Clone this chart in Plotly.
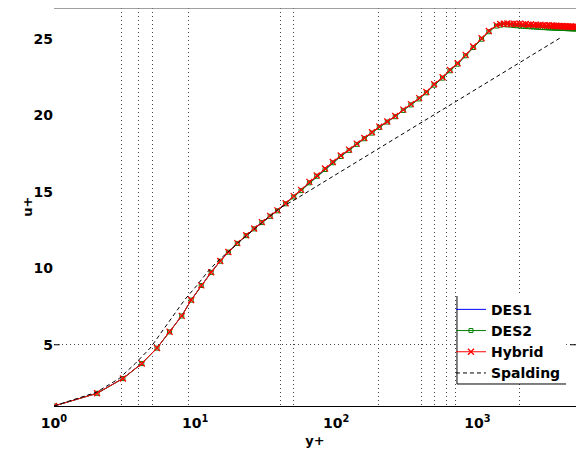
import plotly.graph_objects as go

# ---------------- data ----------------
yplus = [1.0, 2.02, 3.08, 4.19, 5.37, 6.59, 8.04, 9.38, 11.05, 13.0, 15.06, 17.2,
         19.9, 23.0, 26.2, 29.7, 34.0, 38.3, 43.8, 50.0, 56.3, 64.5, 72.8, 83.3,
         94.5, 107.6, 123.3, 139.7, 158.1, 179.2, 201.8, 230, 262, 298.5, 338, 387,
         435, 494, 567, 639, 724, 826, 934, 1071, 1206, 1367,
         1450, 1540, 1630, 1720, 1810, 1900, 2000, 2100, 2200, 2300, 2400, 2500,
         2600, 2700, 2800, 2900, 3000, 3100, 3200, 3300, 3400, 3500, 3600, 3700,
         3800, 3900, 4000, 4100, 4200, 4300, 4400, 4500, 4600, 4700, 4800, 4900, 5000]

hybrid = [1.0, 1.83, 2.80, 3.78, 4.79, 5.85, 6.89, 7.93, 8.88, 9.74, 10.47, 11.06,
          11.64, 12.15, 12.59, 13.01, 13.42, 13.78, 14.25, 14.71, 15.12, 15.64, 16.06, 16.51,
          16.94, 17.36, 17.75, 18.14, 18.51, 18.88, 19.25, 19.59, 19.94, 20.36, 20.72, 21.11,
          21.51, 22.02, 22.48, 22.96, 23.39, 23.94, 24.48, 25.02, 25.50, 25.88,
          25.95, 25.97, 25.99, 25.96, 25.98, 25.95, 25.97, 25.93, 25.95, 25.91, 25.93, 25.89,
          25.91, 25.88, 25.90, 25.86, 25.88, 25.85, 25.87, 25.83, 25.86, 25.82, 25.84, 25.81,
          25.83, 25.80, 25.82, 25.79, 25.81, 25.78, 25.80, 25.77, 25.79, 25.77, 25.78, 25.76, 25.77]

des2 = [1.0, 1.83, 2.79, 3.77, 4.78, 5.84, 6.88, 7.92, 8.87, 9.73, 10.46, 11.05,
        11.62, 12.13, 12.57, 12.98, 13.39, 13.75, 14.21, 14.66, 15.07, 15.58, 16.01, 16.45,
        16.89, 17.30, 17.70, 18.09, 18.46, 18.83, 19.20, 19.55, 19.90, 20.31, 20.67, 21.06,
        21.46, 21.96, 22.42, 22.90, 23.33, 23.88, 24.42, 24.96, 25.45, 25.82,
        25.88, 25.91, 25.90, 25.88, 25.86, 25.84, 25.82, 25.80, 25.79, 25.78, 25.77, 25.76,
        25.75, 25.74, 25.73, 25.72, 25.72, 25.71, 25.70, 25.70, 25.69, 25.69, 25.68, 25.68,
        25.67, 25.67, 25.66, 25.66, 25.66, 25.65, 25.65, 25.65, 25.64, 25.64, 25.64, 25.63, 25.63]

des1 = [1.0, 1.83, 2.80, 3.78, 4.79, 5.85, 6.89, 7.93, 8.88, 9.74, 10.47, 11.06,
        11.63, 12.14, 12.58, 13.00, 13.41, 13.77, 14.23, 14.69, 15.10, 15.61, 16.04, 16.48,
        16.92, 17.33, 17.73, 18.12, 18.49, 18.86, 19.23, 19.57, 19.92, 20.34, 20.70, 21.09,
        21.49, 21.99, 22.45, 22.93, 23.36, 23.92, 24.46, 25.00, 25.49, 25.87,
        25.92, 25.93, 25.93, 25.92, 25.91, 25.90, 25.88, 25.87, 25.86, 25.85, 25.84, 25.83,
        25.82, 25.81, 25.80, 25.79, 25.79, 25.78, 25.77, 25.77, 25.76, 25.76, 25.75, 25.75,
        25.74, 25.74, 25.73, 25.73, 25.72, 25.72, 25.72, 25.71, 25.71, 25.71, 25.70, 25.70, 25.70]

spal_y = [1.0, 2.0, 2.9, 3.77, 4.81, 5.82, 7.03, 8.41, 10.3, 12.2, 14.5, 17.2, 19.9,
          23.0, 26.2, 30.0, 34.0, 40.0, 50.0, 70.0, 100.0, 150.0, 200.0, 300.0, 500.0,
          700.0, 1000.0, 1500.0, 2000.0, 3000.0, 3840.0]
spal_u = [1.0, 1.9, 2.8, 3.78, 4.79, 5.85, 6.89, 7.93, 8.88, 9.74, 10.47, 11.1, 11.64,
          12.12, 12.55, 13.0, 13.4, 13.94, 14.44, 15.26, 16.13, 17.12, 17.82, 18.81, 20.06,
          20.88, 21.75, 22.74, 23.44, 24.43, 25.03]

x_grid = [3, 4, 5, 9, 40, 50, 200, 400, 500, 600, 700, 2000]
x_ticks = [1, 10, 100, 1000]
x_ticktext = ["10<sup>0</sup>", "10<sup>1</sup>", "10<sup>2</sup>", "10<sup>3</sup>"]
y_ticks = [5, 10, 15, 20, 25]
y_grid = [5]

FONT = "DejaVu Sans, Verdana, sans-serif"
GRID = "#444444"
TXT = dict(family=FONT, size=14, color="black", weight="bold")
TITLE = dict(family=FONT, size=13, color="black", weight="bold")

fig = go.Figure()
fig.add_trace(go.Scatter(x=yplus, y=des1, name="DES1", mode="lines",
                         line=dict(color="#0000ff", width=1)))
fig.add_trace(go.Scatter(x=yplus, y=des2, name="DES2", mode="lines+markers",
                         line=dict(color="#008000", width=1),
                         marker=dict(symbol="square-open", size=4, color="#008000",
                                     line=dict(width=1, color="#008000"))))
fig.add_trace(go.Scatter(x=yplus, y=hybrid, name="Hybrid", mode="lines+markers",
                         line=dict(color="#ff0000", width=1),
                         marker=dict(symbol="x-thin", size=6, color="#ff0000",
                                     line=dict(width=1.3, color="#ff0000"))))
fig.add_trace(go.Scatter(x=spal_y, y=spal_u, name="Spalding", mode="lines",
                         line=dict(color="#000000", width=1, dash="4px,3px")))

fig.update_xaxes(type="log", range=[0, 3.69897], tickmode="array", automargin=False,
                 tickvals=x_ticks, ticktext=x_ticktext, ticks="", showgrid=False,
                 showline=True, linecolor="black", linewidth=1, zeroline=False,
                 tickfont=TXT, ticklabelstandoff=4,
                 minor=dict(tickmode="array", tickvals=x_grid, showgrid=True,
                            griddash="1px,3px", gridcolor=GRID, gridwidth=1, ticks=""),
                 title=dict(text="y+", font=TITLE, standoff=6))
fig.update_yaxes(range=[1, 27], tickmode="array", tickvals=y_ticks, ticks="", automargin=False,
                 showgrid=False, showline=False, zeroline=False,
                 tickfont=TXT,
                 minor=dict(tickmode="array", tickvals=y_grid, showgrid=True,
                            griddash="1px,3px", gridcolor=GRID, gridwidth=1, ticks=""))

LX0, LX1, LY0, LY1 = 0.772, 0.981, 0.0553, 0.2764
shapes = [
    # top frame line (grey)
    dict(type="line", xref="paper", yref="paper", x0=0, x1=1, y0=1, y1=1,
         line=dict(color="#808080", width=1.5)),
    # y=5 tick marks inside, left and right
    dict(type="line", xref="paper", yref="y", x0=0, x1=0.011, y0=5, y1=5,
         line=dict(color="black", width=1)),
    dict(type="line", xref="paper", yref="y", x0=0.989, x1=1, y0=5, y1=5,
         line=dict(color="black", width=1)),
    # legend box: white background, left and bottom borders
    dict(type="rect", xref="paper", yref="paper", x0=LX0, x1=LX1, y0=LY0, y1=LY1,
         fillcolor="white", line=dict(width=0), layer="above"),
    dict(type="line", xref="paper", yref="paper", x0=LX0, x1=LX0, y0=LY0, y1=LY1,
         line=dict(color="black", width=1)),
    dict(type="line", xref="paper", yref="paper", x0=LX0, x1=LX1, y0=LY0, y1=LY0,
         line=dict(color="black", width=1)),
]

# y-axis title placed as a rotated annotation so it sits where the reference has it
annotations = [
    dict(text="u+", xref="paper", yref="paper", x=-0.052, y=0.5,
         xanchor="center", yanchor="middle", textangle=-90, showarrow=False,
         font=TITLE),
]

# the page body adds an 8px offset; the figure is sized so the plot area lands
# where the reference's axes are
fig.update_layout(
    width=577, height=448,
    margin=dict(l=46, r=9, t=0, b=50),
    paper_bgcolor="white", plot_bgcolor="white",
    font=dict(family=FONT, color="black"),
    showlegend=True,
    legend=dict(x=0.7605, xanchor="left", y=0.282, yanchor="top",
                bgcolor="rgba(0,0,0,0)", borderwidth=0, tracegroupgap=0,
                font=TXT),
    shapes=shapes,
    annotations=annotations,
)

fig.write_html("out.html")
